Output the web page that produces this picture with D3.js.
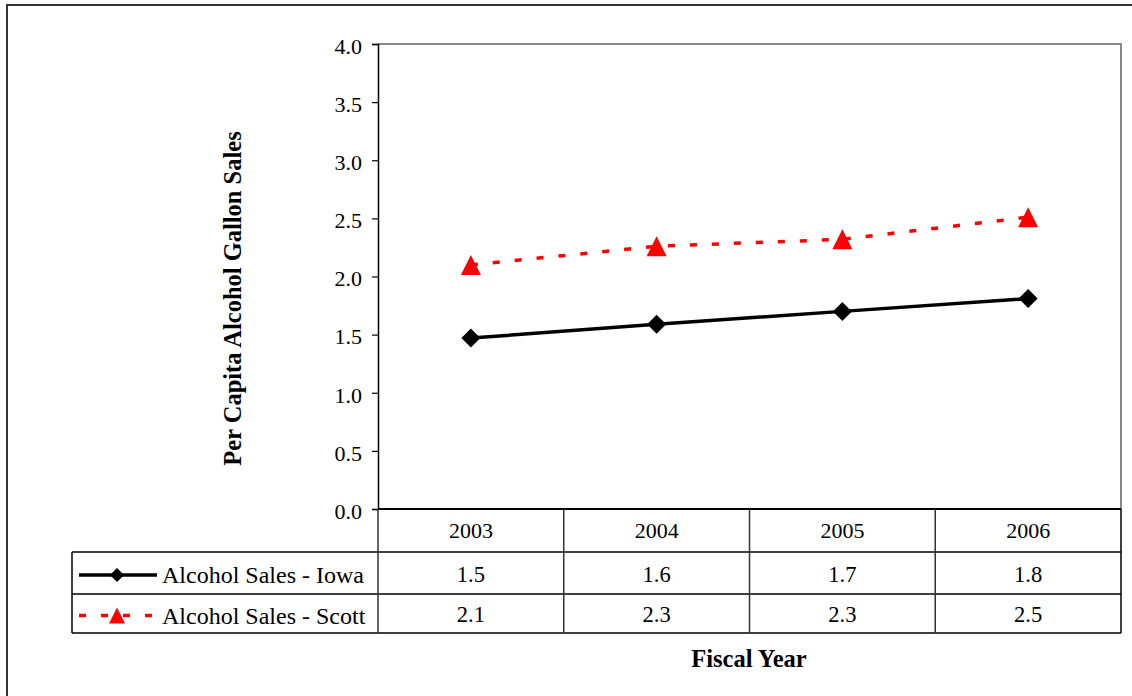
<!DOCTYPE html>
<html>
<head>
<meta charset="utf-8">
<script src="https://cdn.jsdelivr.net/npm/d3@7"></script>
<style>
  html, body { margin: 0; padding: 0; background: #fff; }
  svg { display: block; }
  text { font-family: "Liberation Serif", "Times New Roman", serif; fill: #000; }
</style>
</head>
<body>
<svg id="chart" width="1132" height="696"></svg>
<script>
// Fiscal years and per capita alcohol gallon sales
const years = ["2003", "2004", "2005", "2006"];
const iowaSales = [1.47, 1.59, 1.70, 1.81];
const scottSales = [2.10, 2.26, 2.32, 2.51];
const seriesNames = ["Alcohol Sales - Iowa", "Alcohol Sales - Scott"];
const yTicks = [0, 0.5, 1, 1.5, 2, 2.5, 3, 3.5, 4];

const FONT = "Liberation Serif, Times New Roman, serif";
const svg = d3.select("#chart");
const W = 1132, H = 696;

// plot area
const plotL = 378, plotR = 1121, plotT = 44, plotB = 509;
// data table geometry
const tableLeft = 72;
const rowTops = [509, 552, 594, 633];

const x = d3.scaleBand().domain(years).range([plotL, plotR]);
const y = d3.scaleLinear().domain([0, 4]).range([plotB, plotT]);
const fmt = d3.format(".1f");

// outer frame
svg.append("rect")
  .attr("x", 7).attr("y", 5).attr("width", W + 20).attr("height", H + 20)
  .attr("fill", "none").attr("stroke", "#333").attr("stroke-width", 2);

// plot border: top and right in grey
svg.append("path")
  .attr("d", `M${plotL},${plotT}H${plotR}V${plotB}`)
  .attr("fill", "none").attr("stroke", "#888").attr("stroke-width", 2);

// y axis
const yAxis = d3.axisLeft(y).tickValues(yTicks).tickFormat(fmt).tickSizeOuter(0).tickSize(6).tickPadding(10);
const gy = svg.append("g").attr("transform", `translate(${plotL},0)`).call(yAxis);
gy.attr("font-family", FONT);
gy.select(".domain").attr("stroke", "#000").attr("stroke-width", 1.5);
gy.selectAll(".tick line").attr("stroke", "#000").attr("stroke-width", 1.2);
gy.selectAll(".tick text")
  .attr("font-size", 22)
  .attr("font-family", FONT)
  .attr("dy", "0.42em")
  .attr("fill", "#000");

// y axis title
svg.append("text")
  .attr("transform", `translate(241,${(130 + 467) / 2}) rotate(-90)`)
  .attr("text-anchor", "middle")
  .attr("font-family", FONT)
  .attr("font-size", 24.5)
  .attr("font-weight", "bold")
  .text("Per Capita Alcohol Gallon Sales");

// data table
const tbl = svg.append("g").attr("stroke", "#000").attr("fill", "none");
// horizontal rules
tbl.append("line").attr("x1", plotL).attr("x2", plotR).attr("y1", rowTops[0]).attr("y2", rowTops[0]).attr("stroke-width", 2);
[rowTops[1], rowTops[2], rowTops[3]].forEach(ry => {
  tbl.append("line").attr("x1", tableLeft).attr("x2", plotR).attr("y1", ry).attr("y2", ry).attr("stroke-width", 1.5);
});
// vertical rules between categories
years.forEach(yr => {
  tbl.append("line").attr("x1", x(yr)).attr("x2", x(yr))
    .attr("y1", rowTops[0]).attr("y2", rowTops[3]).attr("stroke", "#333").attr("stroke-width", 1.5);
});
tbl.append("line").attr("x1", plotR).attr("x2", plotR).attr("y1", rowTops[0]).attr("y2", rowTops[3]).attr("stroke-width", 1.5);
tbl.append("line").attr("x1", tableLeft).attr("x2", tableLeft).attr("y1", rowTops[1]).attr("y2", rowTops[3]).attr("stroke-width", 1.5);

// category row
svg.append("g").selectAll("text").data(years).join("text")
  .attr("x", d => x(d) + x.bandwidth() / 2)
  .attr("y", (rowTops[0] + rowTops[1]) / 2)
  .attr("dy", "0.35em")
  .attr("text-anchor", "middle")
  .attr("font-family", FONT)
  .attr("font-size", 22)
  .text(d => d);

// value rows
const series = [
  { name: seriesNames[0], values: iowaSales, color: "#000", dash: null, marker: "diamond" },
  { name: seriesNames[1], values: scottSales, color: "#ff0000", dash: "7,15", marker: "triangle" }
];

function markerPath(type, cx, cy, s) {
  const p = d3.path();
  if (type === "diamond") {
    p.moveTo(cx, cy - s); p.lineTo(cx + s, cy); p.lineTo(cx, cy + s); p.lineTo(cx - s, cy); p.closePath();
  } else {
    p.moveTo(cx, cy - s); p.lineTo(cx + s, cy + s); p.lineTo(cx - s, cy + s); p.closePath();
  }
  return p.toString();
}

series.forEach((s, i) => {
  const rowMid = (rowTops[i + 1] + rowTops[i + 2]) / 2;
  // values
  svg.append("g").selectAll("text").data(s.values).join("text")
    .attr("x", (d, j) => x(years[j]) + x.bandwidth() / 2)
    .attr("y", rowMid + 1)
    .attr("dy", "0.35em")
    .attr("text-anchor", "middle")
    .attr("font-family", FONT)
    .attr("font-size", 22.5)
    .text(d => fmt(d));

  // legend key
  const ly = rowMid + 2;
  const lk = svg.append("g");
  lk.append("line").attr("x1", 79).attr("x2", 157).attr("y1", ly).attr("y2", ly)
    .attr("stroke", s.color).attr("stroke-width", 3.5)
    .attr("stroke-dasharray", s.dash);
  lk.append("path").attr("d", markerPath(s.marker, 117, ly, s.marker === "diamond" ? 7 : 8))
    .attr("fill", s.color);
  svg.append("text")
    .attr("x", 162).attr("y", ly)
    .attr("dy", "0.35em")
    .attr("font-family", FONT)
    .attr("font-size", 24)
    .text(s.name);

  // series line and markers
  const line = d3.line().x((d, j) => x(years[j]) + x.bandwidth() / 2).y(d => y(d));
  svg.append("path").datum(s.values)
    .attr("d", line)
    .attr("fill", "none")
    .attr("stroke", s.color)
    .attr("stroke-width", 3.5)
    .attr("stroke-dasharray", s.dash);
  svg.append("g").selectAll("path").data(s.values).join("path")
    .attr("d", (d, j) => markerPath(s.marker, x(years[j]) + x.bandwidth() / 2, y(d), s.marker === "diamond" ? 9.5 : 10))
    .attr("fill", s.color);
});

// x axis title
svg.append("text")
  .attr("x", 749).attr("y", 658)
  .attr("dy", "0.35em")
  .attr("text-anchor", "middle")
  .attr("font-family", FONT)
  .attr("font-size", 24.5)
  .attr("font-weight", "bold")
  .text("Fiscal Year");
</script>
</body>
</html>
